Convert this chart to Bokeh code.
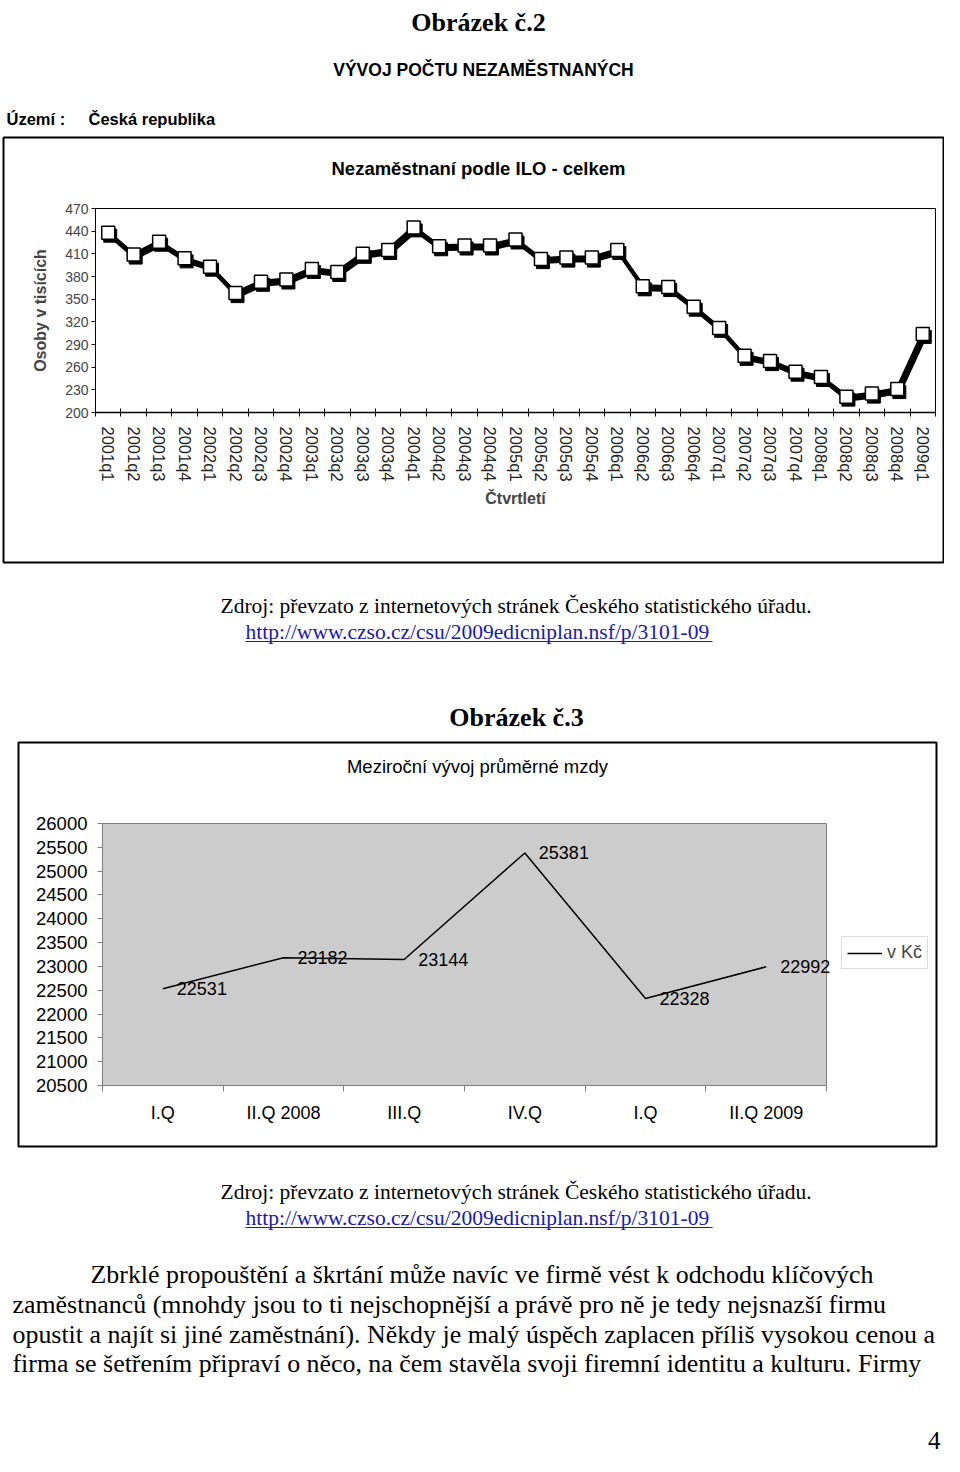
from bokeh.plotting import figure
from bokeh.models import (Range1d, FixedTicker, LinearAxis, ColumnDataSource,
                          Legend, LegendItem)
from bokeh.embed import file_html
from bokeh.resources import INLINE
from bokeh.core.properties import value
from bokeh.transform import dodge

# ---------------- data ----------------
quarters = ["2001q1", "2001q2", "2001q3", "2001q4",
            "2002q1", "2002q2", "2002q3", "2002q4",
            "2003q1", "2003q2", "2003q3", "2003q4",
            "2004q1", "2004q2", "2004q3", "2004q4",
            "2005q1", "2005q2", "2005q3", "2005q4",
            "2006q1", "2006q2", "2006q3", "2006q4",
            "2007q1", "2007q2", "2007q3", "2007q4",
            "2008q1", "2008q2", "2008q3", "2008q4",
            "2009q1"]
unemployed = [438, 409, 426, 404,
              393, 358, 373, 376,
              390, 386, 410, 415,
              445, 420, 421, 421,
              429, 403, 405, 405,
              415, 367, 366, 340,
              312, 275, 268, 254,
              247, 221, 225, 231,
              304]
unemp_ticks = [200, 230, 260, 290, 320, 350, 380, 410, 440, 470]

wage_labels = ["I.Q", "II.Q 2008", "III.Q", "IV.Q", "I.Q", "II.Q 2009"]
wages = [22531, 23182, 23144, 25381, 22328, 22992]
wage_ticks = [20500, 21000, 21500, 22000, 22500, 23000, 23500,
              24000, 24500, 25000, 25500, 26000]

SERIF = value("Liberation Serif")
SANS = value("Liberation Sans")

W, H = 944, 1456


def xrange_for(d0, p0, d1, p1, total=W):
    s = (d1 - d0) / (p1 - p0)
    start = d0 - p0 * s
    return Range1d(start, start + total * s)


def yrange_for(d_bot, p_bot, d_top, p_top, total=H):
    s = (d_top - d_bot) / (p_bot - p_top)
    start = d_bot - (total - p_bot) * s
    return Range1d(start, start + total * s)


p = figure(width=W, height=H, x_range=Range1d(0, W), y_range=Range1d(H, 0),
           output_backend="svg", toolbar_location=None, min_border=0,
           x_axis_type=None, y_axis_type=None)
p.outline_line_color = None
p.title.visible = False
p.background_fill_color = "white"
p.border_fill_color = "white"

# chart geometry (canvas pixels)
C1 = dict(l=95, r=935, t=208, b=412)
C2 = dict(l=102, r=826, t=823, b=1085)

x1r = (0.5, len(quarters) + 0.5)
y1r = (unemp_ticks[0], unemp_ticks[-1])
x2r = (0.5, len(wages) + 0.5)
y2r = (wage_ticks[0], wage_ticks[-1])

p.extra_x_ranges = {"c1x": xrange_for(x1r[0], C1["l"], x1r[1], C1["r"]),
                    "c2x": xrange_for(x2r[0], C2["l"], x2r[1], C2["r"])}
p.extra_y_ranges = {"c1y": yrange_for(y1r[0], C1["b"], y1r[1], C1["t"]),
                    "c2y": yrange_for(y2r[0], C2["b"], y2r[1], C2["t"])}


def txt(x, y, s, size, font=SERIF, style="normal", align="left", baseline="middle", color="black"):
    p.text(x=[x], y=[y], text=[s], text_font=font, text_font_style=style,
           text_font_size=size, text_align=align, text_baseline=baseline, text_color=color)


# ---------------- header ----------------
txt(478, 22, "Obrázek č.2", "26px", style="bold", align="center", baseline="alphabetic")
txt(483, 69, "VÝVOJ POČTU NEZAMĚSTNANÝCH", "17.5px", font=SANS, style="bold", align="center")
txt(6, 118, "Území :", "16.5px", font=SANS, style="bold")
txt(88, 118, "Česká republika", "16.5px", font=SANS, style="bold")

# ---------------- chart 1 ----------------
p.quad(left=[3], right=[943], top=[137], bottom=[562], fill_color=None,
       line_color="black", line_width=2)
txt(478, 168, "Nezaměstnaní podle ILO - celkem", "18.5px", font=SANS, style="bold", align="center")
p.quad(left=[x1r[0]], right=[x1r[1]], bottom=[y1r[0]], top=[y1r[1]],
       x_range_name="c1x", y_range_name="c1y", fill_color="white", line_color="black", line_width=1)

xs1 = list(range(1, len(quarters) + 1))
xa1 = LinearAxis(x_range_name="c1x", y_range_name="c1y", fixed_location=y1r[0], bounds=x1r,
                 ticker=FixedTicker(ticks=xs1, minor_ticks=[i + 0.5 for i in range(0, len(quarters) + 1)]))
xa1.major_label_overrides = {i: q for i, q in zip(xs1, quarters)}
xa1.major_label_orientation = "vertical"
xa1.major_tick_in = 0
xa1.major_tick_out = 0
xa1.minor_tick_in = 4
xa1.minor_tick_out = 4
xa1.minor_tick_line_color = "black"
xa1.major_label_standoff = 10
xa1.major_label_text_font = "Liberation Sans"
xa1.major_label_text_font_size = "16.5px"
xa1.major_label_text_color = "#222222"
xa1.axis_line_width = 1.5
xa1.axis_label = "Čtvrtletí"
xa1.axis_label_text_font = "Liberation Sans"
xa1.axis_label_text_font_style = "bold"
xa1.axis_label_text_font_size = "16px"
xa1.axis_label_standoff = 5
p.add_layout(xa1, "below")

ya1 = LinearAxis(x_range_name="c1x", y_range_name="c1y", fixed_location=x1r[0], bounds=y1r,
                 ticker=FixedTicker(ticks=unemp_ticks))
ya1.major_tick_in = 0
ya1.major_tick_out = 4
ya1.minor_tick_out = 0
ya1.major_label_standoff = 3
ya1.major_label_text_font = "Liberation Sans"
ya1.major_label_text_font_size = "14px"
ya1.axis_label = "Osoby v tisících"
ya1.axis_label_text_font = "Liberation Sans"
ya1.axis_label_text_font_style = "bold"
ya1.axis_label_text_font_size = "16px"
ya1.axis_label_standoff = 13
p.add_layout(ya1, "left")

src1 = ColumnDataSource(dict(x=xs1, y=unemployed))
dx = (x1r[1] - x1r[0]) / (C1["r"] - C1["l"]) * 2
dy = -(y1r[1] - y1r[0]) / (C1["b"] - C1["t"]) * 3
p.line(x=dodge("x", dx), y=dodge("y", dy), source=src1, line_color="black", line_width=4,
       x_range_name="c1x", y_range_name="c1y")
p.line(x="x", y="y", source=src1, line_color="black", line_width=4,
       x_range_name="c1x", y_range_name="c1y")
p.scatter(x=dodge("x", dx), y=dodge("y", dy), source=src1, marker="square", size=13,
          fill_color="black", line_color="black", x_range_name="c1x", y_range_name="c1y")
p.scatter(x="x", y="y", source=src1, marker="square", size=13,
          fill_color="white", line_color="black", line_width=1.5,
          x_range_name="c1x", y_range_name="c1y")

# ---------------- text between ----------------
LINK = "#1a1aaa"
txt(220, 605, "Zdroj: převzato z internetových stránek Českého statistického úřadu.", "21.5px")
txt(245, 631, "http://www.czso.cz/csu/2009edicniplan.nsf/p/3101-09", "21.5px", color=LINK)
p.segment(x0=[245], y0=[641], x1=[712], y1=[641], line_color=LINK, line_width=1)
txt(516, 717, "Obrázek č.3", "26px", style="bold", align="center")

# ---------------- chart 2 ----------------
p.quad(left=[18], right=[936], top=[742], bottom=[1146], fill_color=None,
       line_color="black", line_width=2)
txt(477, 766, "Meziroční vývoj průměrné mzdy", "18.5px", font=SANS, align="center")
p.quad(left=[x2r[0]], right=[x2r[1]], bottom=[y2r[0]], top=[y2r[1]],
       x_range_name="c2x", y_range_name="c2y", fill_color="#CCCCCC", line_color="#808080", line_width=1)

xs2 = list(range(1, len(wages) + 1))
xa2 = LinearAxis(x_range_name="c2x", y_range_name="c2y", fixed_location=y2r[0], bounds=x2r,
                 ticker=FixedTicker(ticks=xs2, minor_ticks=[i + 0.5 for i in range(0, len(wages) + 1)]))
xa2.major_label_overrides = {i: l for i, l in zip(xs2, wage_labels)}
xa2.major_tick_in = 0
xa2.major_tick_out = 0
xa2.minor_tick_in = 0
xa2.minor_tick_out = 6
xa2.minor_tick_line_color = "#808080"
xa2.axis_line_color = "#808080"
xa2.major_label_standoff = 11
xa2.major_label_text_font = "Liberation Sans"
xa2.major_label_text_font_size = "18px"
xa2.major_label_text_color = "black"
p.add_layout(xa2, "below")

ya2 = LinearAxis(x_range_name="c2x", y_range_name="c2y", fixed_location=x2r[0], bounds=y2r,
                 ticker=FixedTicker(ticks=wage_ticks))
ya2.major_label_overrides = {t: str(t) for t in wage_ticks}
ya2.major_tick_in = 0
ya2.major_tick_out = 5
ya2.minor_tick_out = 0
ya2.major_tick_line_color = "#808080"
ya2.axis_line_color = "#808080"
ya2.major_label_standoff = 10
ya2.major_label_text_font = "Liberation Sans"
ya2.major_label_text_font_size = "18.5px"
ya2.major_label_text_color = "black"
p.add_layout(ya2, "left")

src2 = ColumnDataSource(dict(x=xs2, y=wages, txt=[str(v) for v in wages]))
r2 = p.line(x="x", y="y", source=src2, line_color="black", line_width=1.5,
            x_range_name="c2x", y_range_name="c2y")
p.text(x="x", y="y", text="txt", source=src2, x_offset=14, text_baseline="middle",
       text_align="left", text_font=SANS, text_font_size="18px", text_color="black",
       x_range_name="c2x", y_range_name="c2y")

leg = Legend(items=[LegendItem(label="v Kč", renderers=[r2])], location=(841, H - 969),
             orientation="vertical")
leg.label_text_font = "Liberation Sans"
leg.label_text_font_size = "18px"
leg.glyph_width = 35
leg.glyph_height = 20
leg.padding = 5
leg.margin = 0
leg.label_standoff = 5
leg.border_line_color = "#BBBBBB"
leg.background_fill_color = "white"
leg.background_fill_alpha = 1
p.add_layout(leg, "center")

# ---------------- text below ----------------
txt(220, 1191, "Zdroj: převzato z internetových stránek Českého statistického úřadu.", "21.5px")
txt(245, 1217, "http://www.czso.cz/csu/2009edicniplan.nsf/p/3101-09", "21.5px", color=LINK)
p.segment(x0=[245], y0=[1227], x1=[712], y1=[1227], line_color=LINK, line_width=1)
para = ["Zbrklé propouštění a škrtání může navíc ve firmě vést k odchodu klíčových",
        "zaměstnanců (mnohdy jsou to ti nejschopnější a právě pro ně je tedy nejsnazší firmu",
        "opustit a najít si jiné zaměstnání). Někdy je malý úspěch zaplacen příliš vysokou cenou a",
        "firma se šetřením připraví o něco, na čem stavěla svoji firemní identitu a kulturu. Firmy"]
p.text(x=[90, 12, 12, 12], y=[1274, 1304, 1334, 1363], text=para, text_font=SERIF,
       text_font_size="25.9px", text_baseline="middle", text_color="black")
txt(940, 1440, "4", "25px", align="right")

open("out.html", "w").write(file_html(p, INLINE))
